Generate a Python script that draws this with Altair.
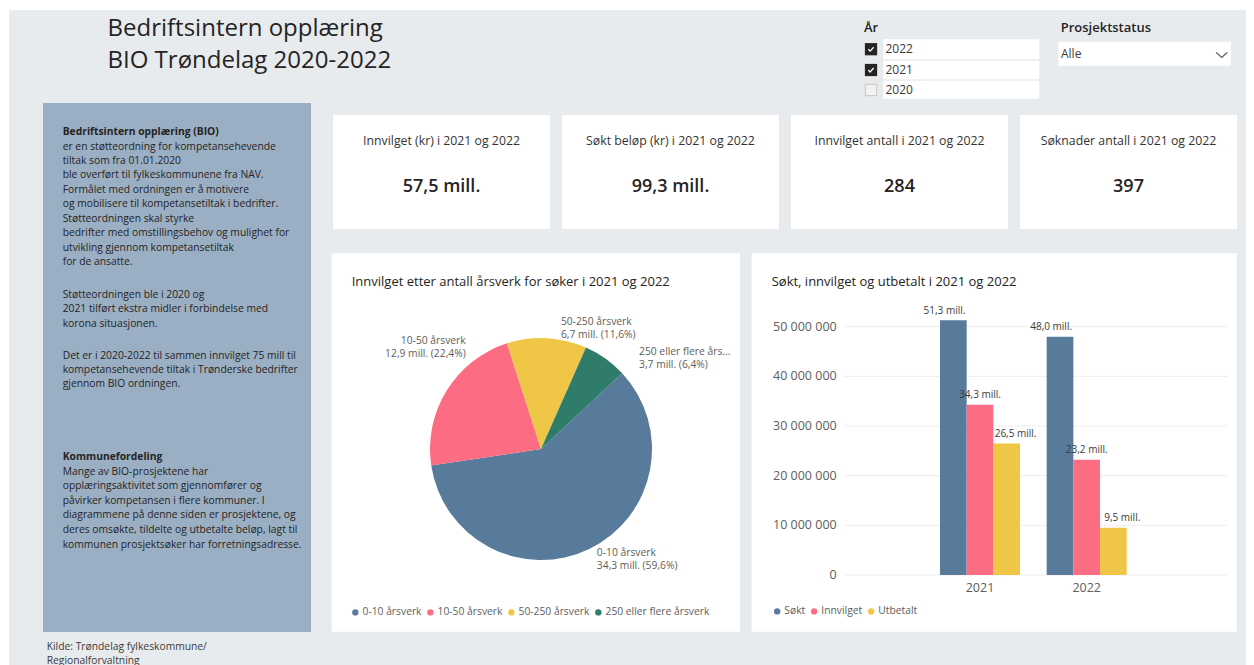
import math
import altair as alt
import pandas as pd

FONT = "Open Sans"
DARK = "#252423"
MID = "#605E5C"
BG = "#E8EBEE"
PANEL = "#9BAFC4"

# ---------------- data ----------------
kpi_titles = ["Innvilget (kr) i 2021 og 2022", "Søkt beløp (kr) i 2021 og 2022",
              "Innvilget antall i 2021 og 2022", "Søknader antall i 2021 og 2022"]
kpi_values = [57.5e6, 99.3e6, 284, 397]
kpi_is_money = [True, True, False, False]

pie_categories = ["0-10 årsverk", "10-50 årsverk", "50-250 årsverk", "250 eller flere årsverk"]
pie_values = [34.28e6, 12.90e6, 6.68e6, 3.69e6]
pie_colors = ["#587A9B", "#FC6D83", "#EFC645", "#2F7C6B"]

bar_years = ["2021", "2022"]
bar_series = ["Søkt", "Innvilget", "Utbetalt"]
sokt = [51.3e6, 48.0e6]
innvilget = [34.3e6, 23.2e6]
utbetalt = [26.5e6, 9.5e6]
bar_colors = ["#587A9B", "#FC6D83", "#EFC645"]

y_ticks = [0, 10e6, 20e6, 30e6, 40e6, 50e6]
y_tick_labels = ["0", "10 000 000", "20 000 000", "30 000 000", "40 000 000", "50 000 000"]

slicer_years = ["2022", "2021", "2020"]
slicer_checked = [True, True, False]

title_lines = ["Bedriftsintern opplæring", "BIO Trøndelag 2020-2022"]
p1_head = "Bedriftsintern opplæring (BIO)"
p1 = ["er en støtteordning for kompetansehevende", "tiltak som fra 01.01.2020",
      "ble overført til fylkeskommunene fra NAV.", "Formålet med ordningen er å motivere",
      "og mobilisere til kompetansetiltak i bedrifter.", "Støtteordningen skal styrke",
      "bedrifter med omstillingsbehov og mulighet for", "utvikling gjennom kompetansetiltak",
      "for de ansatte."]
p2 = ["Støtteordningen ble i 2020 og", "2021 tilført ekstra midler i forbindelse med",
      "korona situasjonen."]
p3 = ["Det er i 2020-2022 til sammen innvilget 75 mill til",
      "kompetansehevende tiltak i Trønderske bedrifter", "gjennom BIO ordningen."]
p4_head = "Kommunefordeling"
p4 = ["Mange av BIO-prosjektene har", "opplæringsaktivitet som gjennomfører og",
      "påvirker kompetansen i flere kommuner. I", "diagrammene på denne siden er prosjektene, og",
      "deres omsøkte, tildelte og utbetalte beløp, lagt til",
      "kommunen prosjektsøker har forretningsadresse."]
source_lines = ["Kilde: Trøndelag fylkeskommune/", "Regionalforvaltning"]

# ---------------- helpers ----------------
one = pd.DataFrame({"k": [0]})


def box(x, y, x2, y2, color, **kw):
    return alt.Chart(one).mark_rect(color=color, **kw).encode(
        x=alt.value(x), y=alt.value(y), x2=alt.value(x2), y2=alt.value(y2))


def txt(text, x, y, size, color=DARK, weight="normal", align="left", baseline="middle", **kw):
    return alt.Chart(one).mark_text(text=text, font=FONT, fontSize=size, color=color,
                                    fontWeight=weight, align=align, baseline=baseline, **kw
                                    ).encode(x=alt.value(x), y=alt.value(y))


def para(lines, x, y, size, lh, color=DARK, weight="normal"):
    return txt("\n".join(lines), x, y, size, color=color, weight=weight,
               baseline="alphabetic", lineBreak="\n", lineHeight=lh)


layers = []

# background
layers.append(box(1, 2, 1238, 657, BG))

# main title
layers.append(para(title_lines, 99.5, 28, 24, 32))

# left info panel
layers.append(box(35, 95, 303, 624, PANEL))
layers.append(para([p1_head], 54.7, 127.2, 10.3, 14.45, weight="bold"))
layers.append(para(p1, 54.7, 141.5, 10.3, 14.45))
layers.append(para(p2, 54.7, 289.8, 10.3, 14.45))
layers.append(para(p3, 54.7, 350.5, 10.3, 14.2))
layers.append(para([p4_head], 54.7, 452.2, 10.3, 14.6, weight="bold"))
layers.append(para(p4, 54.7, 466.5, 10.3, 14.6))
layers.append(para(source_lines, 38.7, 642, 10.3, 13.5, color="#3B3A39"))

# slicers
layers.append(txt("År", 856, 20.3, 13, weight=600))
layers.append(txt("Prosjektstatus", 1052.7, 20.3, 13, weight=600))
row_boxes = [(31.3, 51.3), (52.7, 71.3), (72.7, 90.7)]
row_centers = [41.2, 62.0, 82.0]
check_path = "M -0.75 0 L -0.25 0.55 L 0.75 -0.55"
for yr, chk, (b0, b1), cy in zip(slicer_years, slicer_checked, row_boxes, row_centers):
    layers.append(box(875.3, b0, 1031.3, b1, "white"))
    layers.append(txt(yr, 877.5, cy, 12, color="#3B3A39"))
    if chk:
        layers.append(alt.Chart(one).mark_square(size=150, color="#252423", opacity=1).encode(
            x=alt.value(863), y=alt.value(cy)))
        layers.append(alt.Chart(one).mark_point(shape=check_path, size=50, filled=False,
                                                color="white", strokeWidth=1.3, opacity=1).encode(
            x=alt.value(863), y=alt.value(cy)))
    else:
        layers.append(alt.Chart(one).mark_square(size=130, fill="#F3F2F1", stroke="#C8C6C4",
                                                 strokeWidth=1, opacity=1).encode(
            x=alt.value(863), y=alt.value(cy)))
layers.append(box(1050.3, 33.7, 1223, 57.7, "white"))
layers.append(txt("Alle", 1053, 46.3, 12, color="#3B3A39"))
layers.append(alt.Chart(one).mark_point(shape="M -1 -0.45 L 0 0.45 L 1 -0.45", size=121,
                                        filled=False, color=MID, strokeWidth=1.2, opacity=1).encode(
    x=alt.value(1213.7), y=alt.value(47)))

# KPI cards
card_x = [325, 554, 783, 1012]
for cx, title, val, money in zip(card_x, kpi_titles, kpi_values, kpi_is_money):
    layers.append(box(cx, 107, cx + 217, 221, "white"))
    layers.append(txt(title, cx + 108.5, 133, 12.3, color="#333333", align="center"))
    vtxt = (f"{val / 1e6:.1f}".replace(".", ",") + " mill.") if money else str(val)
    layers.append(txt(vtxt, cx + 108.5, 179, 18, color=DARK, weight=600, align="center"))

# chart panels
layers.append(box(323.7, 245.3, 732, 623.7, "white"))
layers.append(txt("Innvilget etter antall årsverk for søker i 2021 og 2022", 343.7, 273.7, 13))
layers.append(box(743.7, 245.3, 1228.7, 623.7, "white"))
layers.append(txt("Søkt, innvilget og utbetalt i 2021 og 2022", 763.7, 273.7, 13))

# ---------------- pie ----------------
CX, CY, R = 533, 441, 111
START = math.radians(47)
pie_df = pd.DataFrame({"cat": pie_categories, "value": pie_values, "idx": list(range(len(pie_values)))})
pie_base = alt.Chart(pie_df).transform_joinaggregate(
    total="sum(value)"
).transform_window(
    cum="sum(value)", sort=[alt.SortField("idx")], frame=[None, 0]
).transform_calculate(
    t0=f"{START} + 2*PI*(datum.cum - datum.value)/datum.total",
    t1=f"{START} + 2*PI*datum.cum/datum.total",
    tm="(datum.t0 + datum.t1)/2",
    lab="datum.cat + '\\n' + replace(format(datum.value/1e6, '.1f'), '.', ',') + ' mill. ('"
        " + replace(format(100*datum.value/datum.total, '.1f'), '.', ',') + '%)'",
)
pie_legend = alt.Legend(orient="none", legendX=342.2, legendY=599, direction="horizontal",
                        title=None, symbolType="circle", symbolSize=40, symbolStrokeWidth=0,
                        labelFont=FONT, labelFontSize=10.3, labelColor=MID, labelOffset=2,
                        columnPadding=3, padding=0)
layers.append(pie_base.mark_arc(outerRadius=R).encode(
    theta=alt.Theta("t0:Q", scale=None, stack=False),
    theta2="t1:Q",
    color=alt.Color("cat:N", scale=alt.Scale(domain=pie_categories, range=pie_colors), legend=pie_legend),
    x=alt.value(CX), y=alt.value(CY),
))
label_cfg = {
    "0-10 årsverk": ("left", 1.5, -6.0),
    "10-50 årsverk": ("right", 31.0, -39.0),
    "50-250 årsverk": ("left", 13.3, 0.5),
    "250 eller flere årsverk": ("left", 25.5, 7.5),
}
for cat in pie_categories:
    al, ddx, ddy = label_cfg[cat]
    layers.append(pie_base.transform_filter(alt.datum.cat == cat).mark_text(
        radius=125, align=al, dx=ddx, dy=ddy, baseline="alphabetic", lineBreak="\n", lineHeight=13,
        font=FONT, fontSize=10.3, color=MID, limit=96, ellipsis="...",
    ).encode(
        theta=alt.Theta("tm:Q", scale=None, stack=False),
        text="lab:N",
        x=alt.value(CX), y=alt.value(CY),
    ))

# ---------------- bars ----------------
rows = []
for s, vals in zip(bar_series, [sokt, innvilget, utbetalt]):
    for yv, v in zip(bar_years, vals):
        rows.append({"year": yv, "series": s, "value": v})
bar_df = pd.DataFrame(rows)
ticks_df = pd.DataFrame({"v": y_ticks, "lab": y_tick_labels})

Y0 = 567.0
PX_PER = 49.66 / 10e6
YMAX = 55e6
ysc = alt.Scale(domain=[0, YMAX], range=[Y0, Y0 - YMAX * PX_PER], nice=False, zero=True)
xsc = alt.Scale(domain=bar_years, range=[918.65, 1132.05], paddingInner=0, paddingOuter=0)
xo = alt.Scale(domain=bar_series, paddingInner=0, paddingOuter=0.5)

layers.append(alt.Chart(ticks_df).mark_rule(color="#EDEDED", strokeWidth=1).encode(
    y=alt.Y("v:Q", scale=ysc, axis=None), x=alt.value(837), x2=alt.value(1219.3)))
layers.append(alt.Chart(ticks_df).mark_text(align="right", baseline="middle", font=FONT,
                                            fontSize=12.5, color=MID).encode(
    y=alt.Y("v:Q", scale=ysc, axis=None), x=alt.value(828.7), text="lab:N"))

bar_legend = alt.Legend(orient="none", legendX=764, legendY=598, direction="horizontal",
                        title=None, symbolType="circle", symbolSize=40, symbolStrokeWidth=0,
                        labelFont=FONT, labelFontSize=10.3, labelColor=MID, labelOffset=2,
                        columnPadding=3, padding=0)
layers.append(alt.Chart(bar_df).mark_bar().encode(
    x=alt.X("year:N", scale=xsc, axis=None),
    xOffset=alt.XOffset("series:N", scale=xo),
    y=alt.Y("value:Q", scale=ysc, axis=None),
    color=alt.Color("series:N", scale=alt.Scale(domain=bar_series, range=bar_colors), legend=bar_legend),
))
layers.append(alt.Chart(bar_df).transform_calculate(
    lab="replace(format(datum.value/1e6, '.1f'), '.', ',') + ' mill.'"
).mark_text(baseline="middle", dy=-9.5, font=FONT, fontSize=10, color="#3B3A39").encode(
    x=alt.X("year:N", scale=xsc, axis=None),
    xOffset=alt.XOffset("series:N", scale=xo),
    y=alt.Y("value:Q", scale=ysc, axis=None),
    text="lab:N",
))
layers.append(alt.Chart(pd.DataFrame({"year": bar_years})).mark_text(
    baseline="middle", font=FONT, fontSize=12.5, color=MID).encode(
    x=alt.X("year:N", scale=xsc, axis=None), y=alt.value(579.7), text="year:N"))

chart = alt.layer(*layers).resolve_scale(
    x="independent", y="independent", color="independent", xOffset="independent", theta="independent"
).properties(
    width=1238, height=657, autosize=alt.AutoSizeParams(type="none"), padding=0, background="white"
).configure_view(stroke=None)

chart.save("out.html", embed_options={"renderer": "svg", "actions": False})
